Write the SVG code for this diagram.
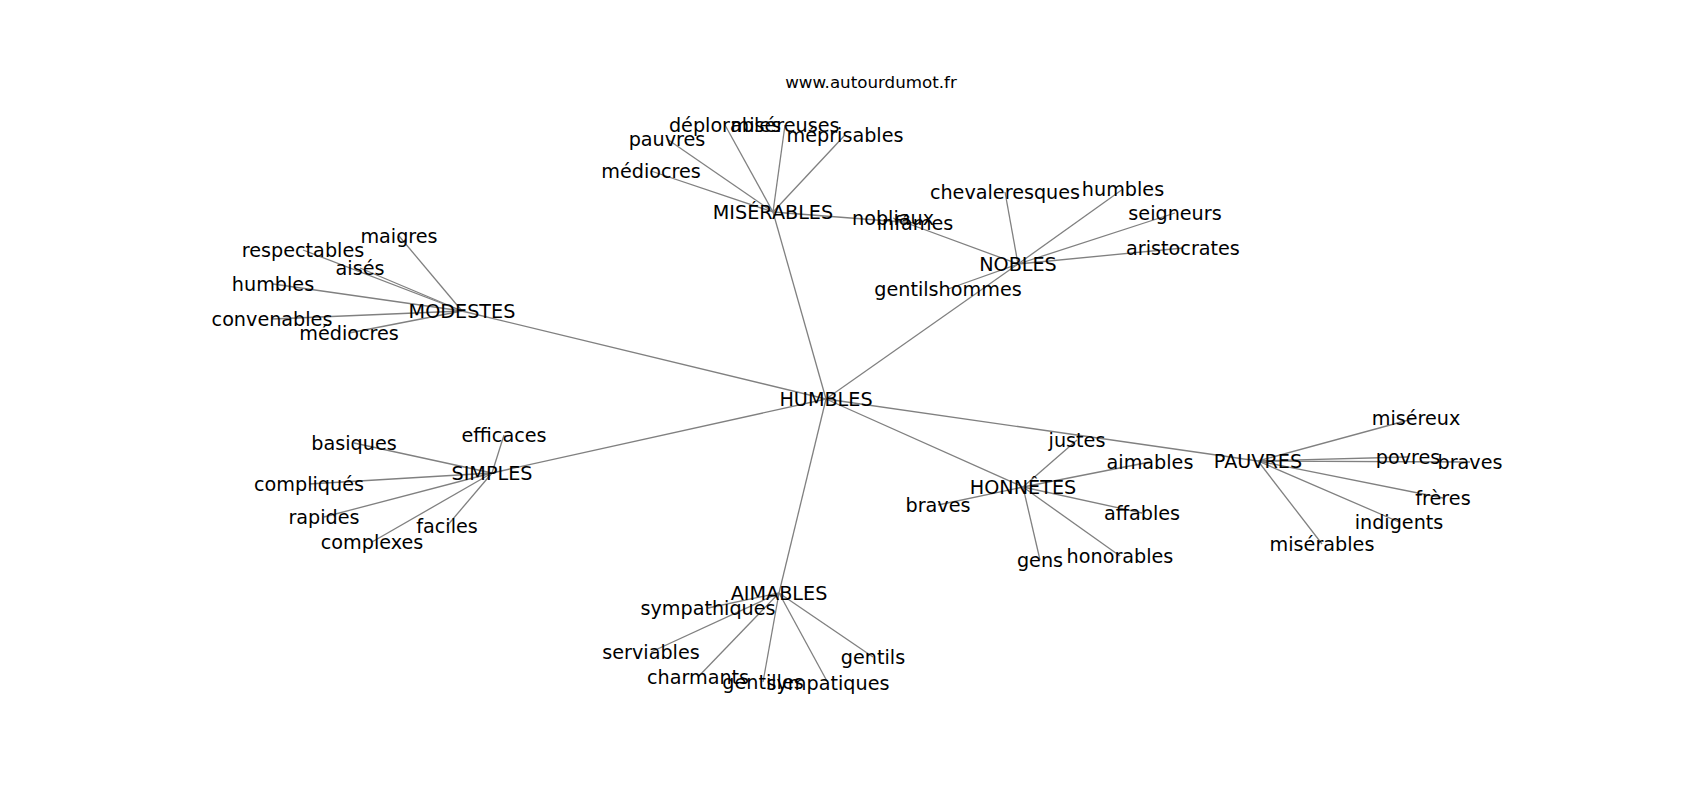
<svg xmlns="http://www.w3.org/2000/svg" width="1700" height="800" viewBox="0 0 1700 800">
<style>
.bg{fill:#ffffff}
.e line{stroke:#808080;stroke-width:1.3;fill:none}
.n text{font-family:"DejaVu Sans","Liberation Sans",sans-serif;font-size:19.2px;fill:#000;text-anchor:middle}
.title{font-family:"DejaVu Sans","Liberation Sans",sans-serif;font-size:16.7px;fill:#000;text-anchor:middle}
</style>
<rect class="bg" x="0" y="0" width="1700" height="800"/>
<text class="title" x="871" y="88">www.autourdumot.fr</text>
<g id="edges" class="e">
<line x1="826" y1="399" x2="773" y2="212"/>
<line x1="826" y1="399" x2="1018" y2="264"/>
<line x1="826" y1="399" x2="462" y2="311"/>
<line x1="826" y1="399" x2="492" y2="473"/>
<line x1="826" y1="399" x2="1023" y2="487"/>
<line x1="826" y1="399" x2="1258" y2="461"/>
<line x1="826" y1="399" x2="779" y2="593"/>
<line x1="773" y1="212" x2="725" y2="125"/>
<line x1="773" y1="212" x2="785" y2="125"/>
<line x1="773" y1="212" x2="845" y2="135"/>
<line x1="773" y1="212" x2="667" y2="139"/>
<line x1="773" y1="212" x2="651" y2="171"/>
<line x1="773" y1="212" x2="915" y2="223"/>
<line x1="1018" y1="264" x2="893" y2="218"/>
<line x1="1018" y1="264" x2="1005" y2="192"/>
<line x1="1018" y1="264" x2="1123" y2="189"/>
<line x1="1018" y1="264" x2="1175" y2="213"/>
<line x1="1018" y1="264" x2="1183" y2="248"/>
<line x1="1018" y1="264" x2="948" y2="289"/>
<line x1="462" y1="311" x2="399" y2="236"/>
<line x1="462" y1="311" x2="303" y2="250"/>
<line x1="462" y1="311" x2="360" y2="268"/>
<line x1="462" y1="311" x2="273" y2="284"/>
<line x1="462" y1="311" x2="272" y2="319"/>
<line x1="462" y1="311" x2="349" y2="333"/>
<line x1="492" y1="473" x2="504" y2="435"/>
<line x1="492" y1="473" x2="354" y2="443"/>
<line x1="492" y1="473" x2="309" y2="484"/>
<line x1="492" y1="473" x2="324" y2="517"/>
<line x1="492" y1="473" x2="372" y2="542"/>
<line x1="492" y1="473" x2="447" y2="526"/>
<line x1="1023" y1="487" x2="1077" y2="440"/>
<line x1="1023" y1="487" x2="1150" y2="462"/>
<line x1="1023" y1="487" x2="938" y2="505"/>
<line x1="1023" y1="487" x2="1142" y2="513"/>
<line x1="1023" y1="487" x2="1040" y2="560"/>
<line x1="1023" y1="487" x2="1120" y2="556"/>
<line x1="1258" y1="461" x2="1416" y2="418"/>
<line x1="1258" y1="461" x2="1408" y2="457"/>
<line x1="1258" y1="461" x2="1470" y2="462"/>
<line x1="1258" y1="461" x2="1443" y2="498"/>
<line x1="1258" y1="461" x2="1399" y2="522"/>
<line x1="1258" y1="461" x2="1322" y2="544"/>
<line x1="779" y1="593" x2="708" y2="608"/>
<line x1="779" y1="593" x2="651" y2="652"/>
<line x1="779" y1="593" x2="698" y2="677"/>
<line x1="779" y1="593" x2="763" y2="682"/>
<line x1="779" y1="593" x2="828" y2="683"/>
<line x1="779" y1="593" x2="873" y2="657"/>
</g>
<g class="n">
<g id="n-humbles"><text x="826" y="406">HUMBLES</text></g>
<g id="n-miserables"><text x="773" y="219">MISÉRABLES</text></g>
<g id="n-deplorables"><text x="725" y="132">déplorables</text></g>
<g id="n-misereuses"><text x="785" y="132">miséreuses</text></g>
<g id="n-meprisables"><text x="845" y="142">méprisables</text></g>
<g id="n-pauvres-m"><text x="667" y="146">pauvres</text></g>
<g id="n-mediocres-m"><text x="651" y="178">médiocres</text></g>
<g id="n-infames"><text x="915" y="230">infâmes</text></g>
<g id="n-nobles"><text x="1018" y="271">NOBLES</text></g>
<g id="n-nobliaux"><text x="893" y="225">nobliaux</text></g>
<g id="n-chevaleresques"><text x="1005" y="199">chevaleresques</text></g>
<g id="n-humbles-n"><text x="1123" y="196">humbles</text></g>
<g id="n-seigneurs"><text x="1175" y="220">seigneurs</text></g>
<g id="n-aristocrates"><text x="1183" y="255">aristocrates</text></g>
<g id="n-gentilshommes"><text x="948" y="296">gentilshommes</text></g>
<g id="n-modestes"><text x="462" y="318">MODESTES</text></g>
<g id="n-maigres"><text x="399" y="243">maigres</text></g>
<g id="n-respectables"><text x="303" y="257">respectables</text></g>
<g id="n-aises"><text x="360" y="275">aisés</text></g>
<g id="n-humbles-mo"><text x="273" y="291">humbles</text></g>
<g id="n-convenables"><text x="272" y="326">convenables</text></g>
<g id="n-mediocres-mo"><text x="349" y="340">médiocres</text></g>
<g id="n-simples"><text x="492" y="480">SIMPLES</text></g>
<g id="n-efficaces"><text x="504" y="442">efficaces</text></g>
<g id="n-basiques"><text x="354" y="450">basiques</text></g>
<g id="n-compliques"><text x="309" y="491">compliqués</text></g>
<g id="n-rapides"><text x="324" y="524">rapides</text></g>
<g id="n-complexes"><text x="372" y="549">complexes</text></g>
<g id="n-faciles"><text x="447" y="533">faciles</text></g>
<g id="n-honnetes"><text x="1023" y="494">HONNÊTES</text></g>
<g id="n-justes"><text x="1077" y="447">justes</text></g>
<g id="n-aimables-h"><text x="1150" y="469">aimables</text></g>
<g id="n-braves-h"><text x="938" y="512">braves</text></g>
<g id="n-affables"><text x="1142" y="520">affables</text></g>
<g id="n-gens"><text x="1040" y="567">gens</text></g>
<g id="n-honorables"><text x="1120" y="563">honorables</text></g>
<g id="n-pauvres"><text x="1258" y="468">PAUVRES</text></g>
<g id="n-misereux"><text x="1416" y="425">miséreux</text></g>
<g id="n-povres"><text x="1408" y="464">povres</text></g>
<g id="n-braves-p"><text x="1470" y="469">braves</text></g>
<g id="n-freres"><text x="1443" y="505">frères</text></g>
<g id="n-indigents"><text x="1399" y="529">indigents</text></g>
<g id="n-miserables-p"><text x="1322" y="551">misérables</text></g>
<g id="n-aimables"><text x="779" y="600">AIMABLES</text></g>
<g id="n-sympathiques"><text x="708" y="615">sympathiques</text></g>
<g id="n-serviables"><text x="651" y="659">serviables</text></g>
<g id="n-charmants"><text x="698" y="684">charmants</text></g>
<g id="n-gentilles"><text x="763" y="689">gentilles</text></g>
<g id="n-sympatiques"><text x="828" y="690">sympatiques</text></g>
<g id="n-gentils"><text x="873" y="664">gentils</text></g>
</g>
</svg>
